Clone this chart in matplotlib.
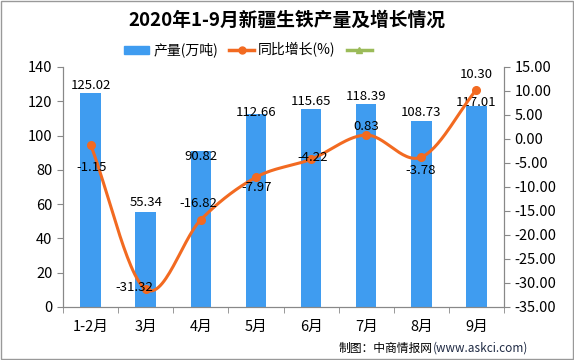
import numpy as np
import matplotlib
matplotlib.use("Agg")
import matplotlib.pyplot as plt
from matplotlib.lines import Line2D
from matplotlib.patches import Patch, Rectangle

plt.rcParams['font.family'] = ['Noto Sans CJK SC', 'DejaVu Sans']

categories = ["1-2月", "3月", "4月", "5月", "6月", "7月", "8月", "9月"]
output = [125.02, 55.34, 90.82, 112.66, 115.65, 118.39, 108.73, 117.01]
growth = [-1.15, -31.32, -16.82, -7.97, -4.22, 0.83, -3.78, 10.30]

title = "2020年1-9月新疆生铁产量及增长情况"
bar_label = "产量(万吨)"
line_label = "同比增长(%)"

# label offsets in pixels (dx, dy), styling only
bar_lab_dy = [7, 10, -5, 1, 7, 8, 8, 4]
line_lab_off = [(1, -23), (-11, 2), (-2, 16), (1, -10), (2, 2), (0, 9), (-1, -13), (0, 15)]

bar_color = "#3F9CF0"
line_color = "#F26A21"
green = "#9BBB59"

fig = plt.figure(figsize=(5.74, 3.6), dpi=100)
ax = fig.add_axes([63/574, 53/360, 441/574, 240/360])
ax2 = ax.twinx()

x = np.arange(len(categories))
ax.bar(x, output, width=0.37, color=bar_color, zorder=2)
ax.set_xlim(-0.5, len(categories) - 0.5)
ax.set_ylim(0, 140)
ax.set_yticks(np.arange(0, 141, 20))
ax2.set_ylim(-35, 15)
ax2.set_yticks(np.arange(-35, 16, 5))
ax2.set_yticklabels([f"{v:.2f}" for v in np.arange(-35, 16, 5)])

# smooth curve (Catmull-Rom) through the data points
def catmull(xs, ys, n=30):
    px = np.concatenate([[2*xs[0]-xs[1]], xs, [2*xs[-1]-xs[-2]]])
    py = np.concatenate([[2*ys[0]-ys[1]], ys, [2*ys[-1]-ys[-2]]])
    ox, oy = [], []
    for i in range(1, len(px)-2):
        t = np.linspace(0, 1, n, endpoint=False)
        for P, out in ((px, ox), (py, oy)):
            p0, p1, p2, p3 = P[i-1], P[i], P[i+1], P[i+2]
            out.extend(0.5*((2*p1) + (-p0+p2)*t + (2*p0-5*p1+4*p2-p3)*t**2 + (-p0+3*p1-3*p2+p3)*t**3))
    ox.append(xs[-1]); oy.append(ys[-1])
    return np.array(ox), np.array(oy)

sx, sy = catmull(x.astype(float), np.array(growth, dtype=float))
ax2.plot(sx, sy, color=line_color, lw=2.2, zorder=3, solid_capstyle='round')
ax2.plot(x, growth, 'o', color=line_color, ms=5.5, zorder=4)

fs = 9.5
for xi, v, dy in zip(x, output, bar_lab_dy):
    ax.annotate(f"{v:.2f}", (xi, v), xytext=(0, dy*0.72), textcoords='offset points',
                ha='center', va='center', fontsize=fs, zorder=5)
for xi, v, (dx, dy) in zip(x, growth, line_lab_off):
    ax2.annotate(f"{v:.2f}", (xi, v), xytext=(dx*0.72, dy*0.72), textcoords='offset points',
                 ha='center', va='center', fontsize=fs, zorder=5)

for a in (ax, ax2):
    a.spines['top'].set_visible(False)
    for s in ('left', 'right', 'bottom'):
        a.spines[s].set_color('#888888')
    a.tick_params(colors='#888888', labelcolor='black', labelsize=10.5, length=4)

ax.set_xticks(x)
ax.set_xticklabels(categories, fontsize=10.5)
ax.tick_params(axis='x', length=0, pad=9)
ax.set_xticks(np.arange(-0.5, len(categories), 1), minor=True)
ax.tick_params(axis='x', which='minor', length=4, color='#888888')

fig.text(0.5, 1 - 20/360, title, ha='center', va='center', fontsize=13.5, fontweight='bold')

handles = [Patch(color=bar_color),
           Line2D([0], [0], color=line_color, lw=2.5, marker='o', ms=5),
           Line2D([0], [0], color=green, lw=2.5, marker='^', ms=5)]
fig.legend(handles, [bar_label, line_label, ""], ncol=3, loc='center',
           bbox_to_anchor=(250/574, 1 - 50/360), frameon=False, fontsize=10,
           handlelength=1.8, handleheight=0.5, columnspacing=0.8, handletextpad=0.3)

fig.text(433/574, 1 - 348/360, "制图：中商情报网", ha='right', va='center', fontsize=8.5)
fig.text(433/574, 1 - 348/360, "(www.askci.com)", ha='left', va='center', fontsize=8.5, color='#1F2A44')

fig.add_artist(Rectangle((0.001, 0.002), 0.997, 0.996, transform=fig.transFigure,
                         fill=False, edgecolor='#999999', lw=1))

fig.savefig("out.png", dpi=100, facecolor='white')
